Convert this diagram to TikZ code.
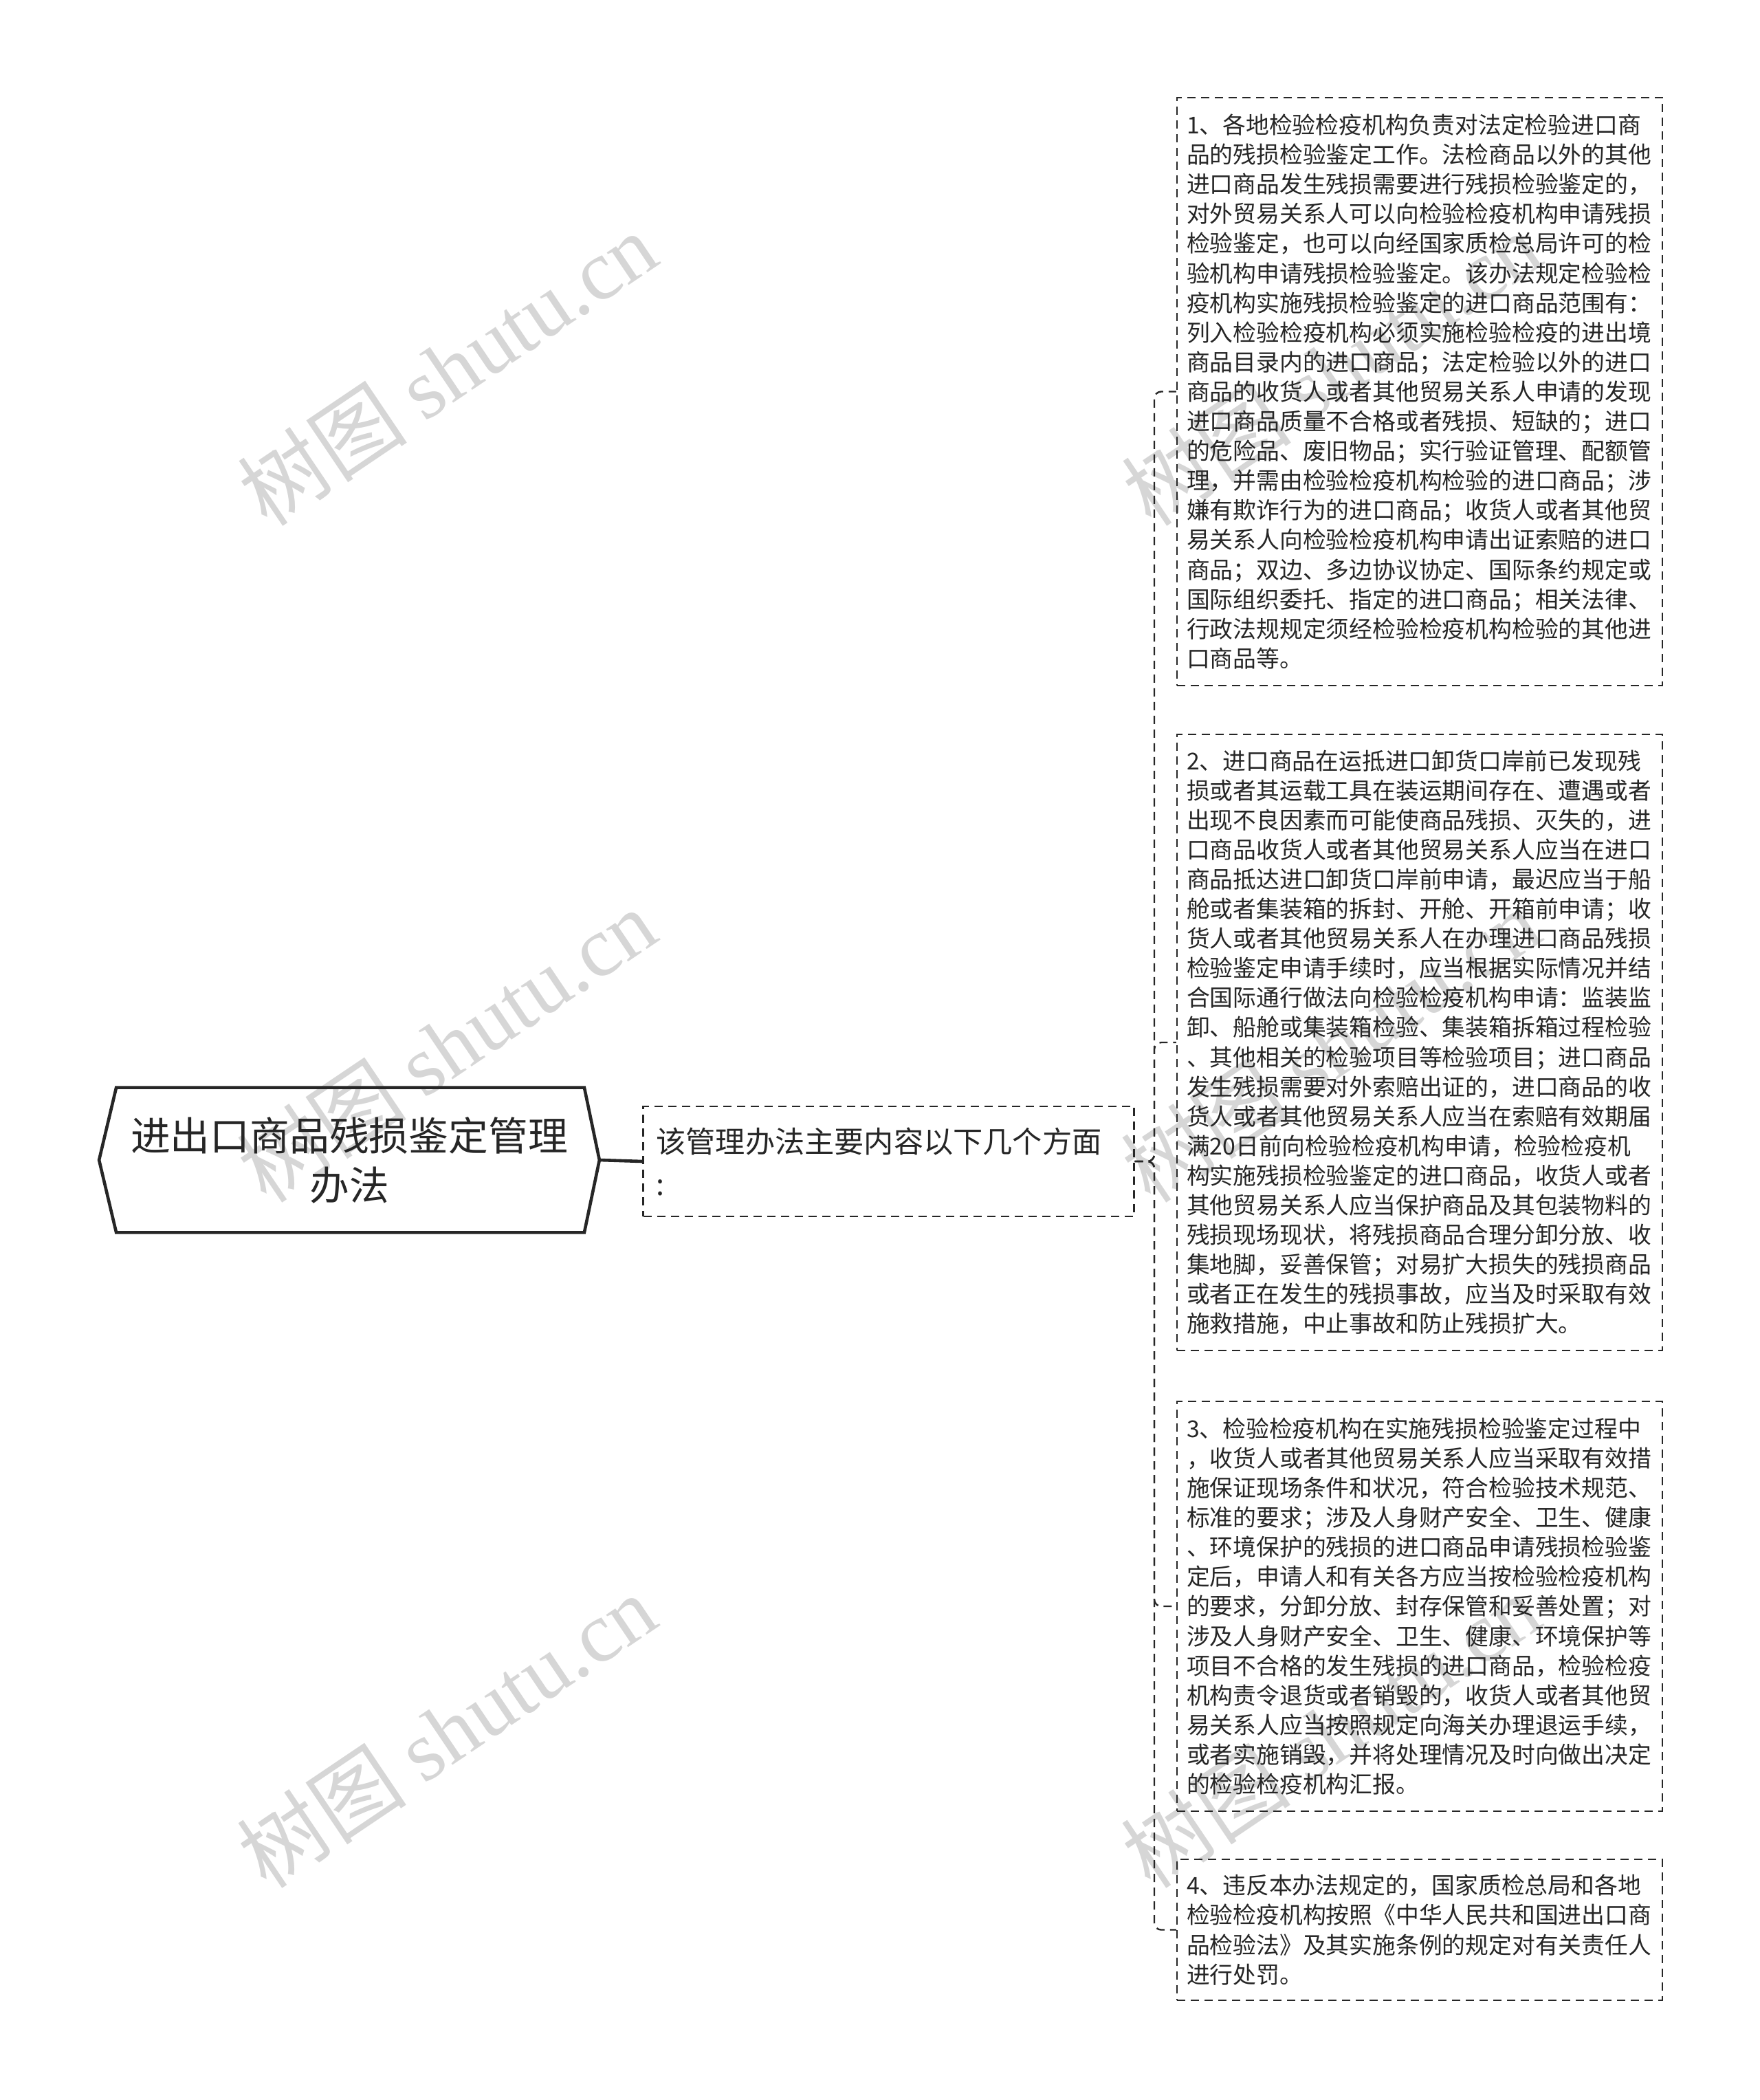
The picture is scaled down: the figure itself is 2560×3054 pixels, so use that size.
\documentclass[tikz,border=0pt]{standalone}
\usepackage{fontspec}
\setmainfont{Noto Sans CJK SC}
\newfontfamily\wmlatin{Liberation Serif}
\newfontfamily\cjkfont{Noto Sans CJK SC}
\definecolor{ink}{HTML}{262626}
\definecolor{wmgray}{HTML}{D6D6D6}
\begin{document}
\begin{tikzpicture}[x=0.5pt,y=-0.5pt,
  wm/.style={text=wmgray, rotate=34, font=\fontsize{62pt}{62pt}\selectfont, inner sep=0pt},
  leaf/.style={draw=ink, text=ink, line width=1.2pt, dash pattern=on 6pt off 4pt,
    text width=339pt, inner xsep=7pt, inner ysep=0pt, align=left,
    font=\fontsize{16.9pt}{21.55pt}\selectfont},
  midbox/.style={draw=ink, text=ink, line width=1.2pt, dash pattern=on 6pt off 4pt,
    text width=338pt, inner xsep=9.5pt, inner ysep=0pt, align=left,
    minimum height=80pt, font=\fontsize{21.6pt}{31pt}\selectfont},
  rootbox/.style={text=ink, align=center, inner sep=0pt, minimum width=363.5pt,
    minimum height=105pt, font=\fontsize{28.9pt}{36pt}\selectfont},
  rootline/.style={draw=ink, line width=2.3pt, line join=miter},
  conn/.style={draw=ink, line width=1.2pt, dash pattern=on 6pt off 4pt, rounded corners=5pt}
]
\path[use as bounding box] (0,0) rectangle (2560,3054);

% watermarks
\node[wm] (wm1) at (650,536) {{\cjkfont 树图} {\wmlatin shutu.cn}};
\node[wm] (wm2) at (649,1520) {{\cjkfont 树图} {\wmlatin shutu.cn}};
\node[wm] (wm3) at (649,2517) {{\cjkfont 树图} {\wmlatin shutu.cn}};
\node[wm] (wm4) at (1936,536) {{\cjkfont 树图} {\wmlatin shutu.cn}};
\node[wm] (wm5) at (1935,1520) {{\cjkfont 树图} {\wmlatin shutu.cn}};
\node[wm] (wm6) at (1935,2517) {{\cjkfont 树图} {\wmlatin shutu.cn}};

% root
\node[rootbox] (root) at (508,1687) {进出口商品残损鉴定管理\\办法};
\draw[rootline] (root.west) -- ([xshift=12.5pt]root.north west) -- ([xshift=-11pt]root.north east)
  -- (root.east) -- ([xshift=-11pt]root.south east) -- ([xshift=12.5pt]root.south west) -- cycle;

% middle
\node[midbox] (mid) at (1292.5,1689) {该管理办法主要内容以下几个方面\\:};
\draw[rootline] (root.east) -- (mid.west);

% leaves
\node[leaf, minimum height=427.5pt] (b1) at (2065,569.5) {1、各地检验检疫机构负责对法定检验进口商\\
品的残损检验鉴定工作。法检商品以外的其他\\
进口商品发生残损需要进行残损检验鉴定的，\\
对外贸易关系人可以向检验检疫机构申请残损\\
检验鉴定，也可以向经国家质检总局许可的检\\
验机构申请残损检验鉴定。该办法规定检验检\\
疫机构实施残损检验鉴定的进口商品范围有：\\
列入检验检疫机构必须实施检验检疫的进出境\\
商品目录内的进口商品；法定检验以外的进口\\
商品的收货人或者其他贸易关系人申请的发现\\
进口商品质量不合格或者残损、短缺的；进口\\
的危险品、废旧物品；实行验证管理、配额管\\
理，并需由检验检疫机构检验的进口商品；涉\\
嫌有欺诈行为的进口商品；收货人或者其他贸\\
易关系人向检验检疫机构申请出证索赔的进口\\
商品；双边、多边协议协定、国际条约规定或\\
国际组织委托、指定的进口商品；相关法律、\\
行政法规规定须经检验检疫机构检验的其他进\\
口商品等。};

\node[leaf, minimum height=448pt] (b2) at (2065,1516) {2、进口商品在运抵进口卸货口岸前已发现残\\
损或者其运载工具在装运期间存在、遭遇或者\\
出现不良因素而可能使商品残损、灭失的，进\\
口商品收货人或者其他贸易关系人应当在进口\\
商品抵达进口卸货口岸前申请，最迟应当于船\\
舱或者集装箱的拆封、开舱、开箱前申请；收\\
货人或者其他贸易关系人在办理进口商品残损\\
检验鉴定申请手续时，应当根据实际情况并结\\
合国际通行做法向检验检疫机构申请：监装监\\
卸、船舱或集装箱检验、集装箱拆箱过程检验\\
、其他相关的检验项目等检验项目；进口商品\\
发生残损需要对外索赔出证的，进口商品的收\\
货人或者其他贸易关系人应当在索赔有效期届\\
满20日前向检验检疫机构申请，检验检疫机\\
构实施残损检验鉴定的进口商品，收货人或者\\
其他贸易关系人应当保护商品及其包装物料的\\
残损现场现状，将残损商品合理分卸分放、收\\
集地脚，妥善保管；对易扩大损失的残损商品\\
或者正在发生的残损事故，应当及时采取有效\\
施救措施，中止事故和防止残损扩大。};

\node[leaf, minimum height=298pt] (b3) at (2065,2336) {3、检验检疫机构在实施残损检验鉴定过程中\\
，收货人或者其他贸易关系人应当采取有效措\\
施保证现场条件和状况，符合检验技术规范、\\
标准的要求；涉及人身财产安全、卫生、健康\\
、环境保护的残损的进口商品申请残损检验鉴\\
定后，申请人和有关各方应当按检验检疫机构\\
的要求，分卸分放、封存保管和妥善处置；对\\
涉及人身财产安全、卫生、健康、环境保护等\\
项目不合格的发生残损的进口商品，检验检疫\\
机构责令退货或者销毁的，收货人或者其他贸\\
易关系人应当按照规定向海关办理退运手续，\\
或者实施销毁，并将处理情况及时向做出决定\\
的检验检疫机构汇报。};

\node[leaf, minimum height=102.5pt] (b4) at (2065,2806.5) {4、违反本办法规定的，国家质检总局和各地\\
检验检疫机构按照《中华人民共和国进出口商\\
品检验法》及其实施条例的规定对有关责任人\\
进行处罚。};

% connectors
\coordinate (trunk) at (1679,1689);
\draw[conn] (mid.east) -- (trunk) |- (b1.west);
\draw[conn] (mid.east) -- (trunk) |- (b2.west);
\draw[conn] (mid.east) -- (trunk) |- (b3.west);
\draw[conn] (mid.east) -- (trunk) |- (b4.west);
\end{tikzpicture}
\end{document}
